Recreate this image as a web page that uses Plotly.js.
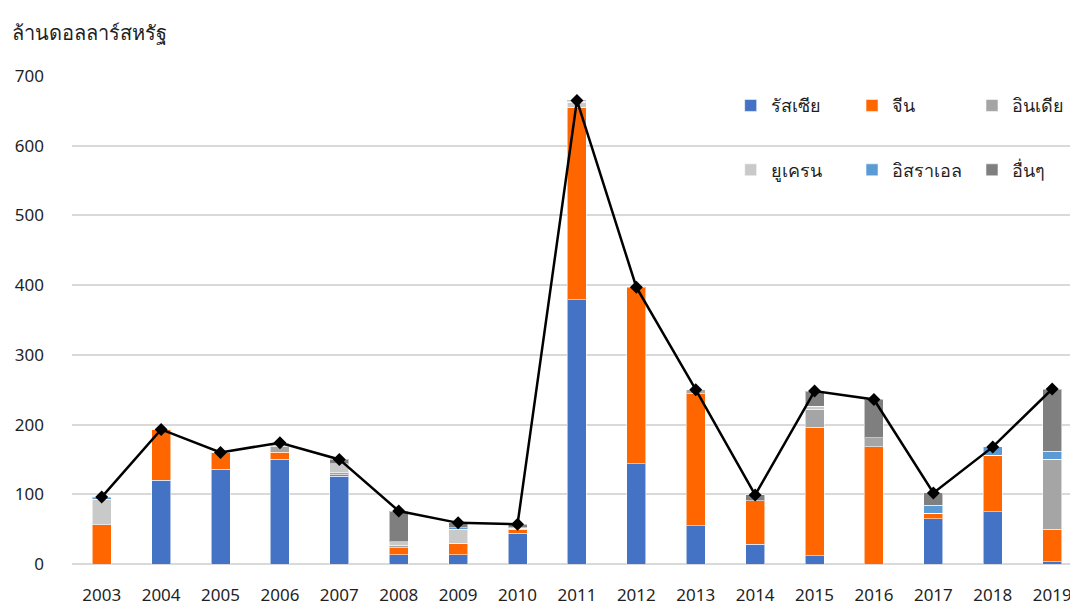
<!DOCTYPE html>
<html>
<head>
<meta charset="utf-8">
<script src="https://cdn.plot.ly/plotly-3.0.1.min.js"></script>
<style>html,body{margin:0;padding:0;background:#fff;}#chart{width:1070px;height:605px;}</style>
</head>
<body>
<div id="chart"></div>
<script>
const years = [2003,2004,2005,2006,2007,2008,2009,2010,2011,2012,2013,2014,2015,2016,2017,2018,2019];
const russia  = [0,120,136,150,126,13,13,44,379,144,55,28,12,0,65,75,3];
const china   = [56,73,24,10,2,10,17,5,276,252,189,63,184,168,8,81,47];
const india   = [0,0,0,8,3,4,0,1,0,0,6,0,26,13,0,0,100];
const ukraine = [37,0,0,6,13,5,20,1,7,0,0,0,4,0,0,0,0];
const israel  = [2,0,0,0,0,0,2,1,2,0,0,0,0,0,11,12,12];
const others  = [1,0,0,0,6,44,7,5,1,1,0,8,22,55,18,0,89];
const total   = [96,193,160,174,150,76,59,57,665,397,250,99,248,236,102,168,251];

const seriesNames = ['รัสเซีย','จีน','อินเดีย','ยูเครน','อิสราเอล','อื่นๆ'];
const seriesData = [russia, china, india, ukraine, israel, others];
const seriesColors = ['#4472C4','#FF6600','#A5A5A5','#C9C9C9','#5B9BD5','#7F7F7F'];
// legend column for each series (row 1: first three, row 2: last three)
const legendIds = ['legend','legend2','legend3','legend','legend2','legend3'];

const FONT = '"Noto Sans", "Open Sans", "DejaVu Sans", sans-serif';

const traces = seriesNames.map((n, i) => ({
  type: 'bar', name: n, x: years, y: seriesData[i],
  width: 0.32,
  marker: {color: seriesColors[i], line: {color: 'rgba(255,255,255,0.55)', width: 1}},
  legend: legendIds[i], legendgroup: 'g' + i,
  hoverinfo: 'x+y+name'
}));
traces.push({
  type: 'scatter', mode: 'lines+markers', name: 'รวม', x: years, y: total,
  line: {color: '#000000', width: 2.5},
  marker: {symbol: 'diamond', size: 10, color: '#000000'},
  showlegend: false
});

const legendCommon = {
  orientation: 'v', xanchor: 'left', yanchor: 'top', y: 0.977,
  traceorder: 'grouped', tracegroupgap: 38,
  font: {family: FONT, size: 18, color: '#1f1f1f'},
  bgcolor: 'rgba(0,0,0,0)'
};

const layout = {
  width: 1070, height: 605,
  margin: {l: 72, r: 0, t: 76, b: 41},
  paper_bgcolor: '#ffffff', plot_bgcolor: '#ffffff',
  barmode: 'stack',
  font: {family: FONT, size: 17, color: '#1f1f1f'},
  xaxis: {
    range: [2002.5, 2019.3], tickmode: 'array', tickvals: years, ticktext: years.map(String),
    showgrid: false, zeroline: false, showline: false, ticks: '',
    ticklabelstandoff: 19, ticklabeloverflow: 'allow',
    tickfont: {family: FONT, size: 17, color: '#1f1f1f'}
  },
  yaxis: {
    range: [0, 700], tickmode: 'linear', tick0: 0, dtick: 100,
    showgrid: true, gridcolor: '#D9D9D9', gridwidth: 2,
    zeroline: true, zerolinecolor: '#D9D9D9', zerolinewidth: 2,
    showline: false, ticks: '', ticklabelstandoff: 27,
    tickfont: {family: FONT, size: 17, color: '#1f1f1f'}
  },
  legend: Object.assign({}, legendCommon, {x: 0.660}),
  legend2: Object.assign({}, legendCommon, {x: 0.7816}),
  legend3: Object.assign({}, legendCommon, {x: 0.9018}),
  annotations: [{
    text: 'ล้านดอลลาร์สหรัฐ', xref: 'paper', yref: 'paper',
    x: -0.062, y: 1.09, xanchor: 'left', yanchor: 'middle', showarrow: false,
    font: {family: FONT, size: 20, color: '#1f1f1f'}
  }],
  showlegend: true
};

Plotly.newPlot('chart', traces, layout, {displayModeBar: false, responsive: false});
</script>
</body>
</html>
